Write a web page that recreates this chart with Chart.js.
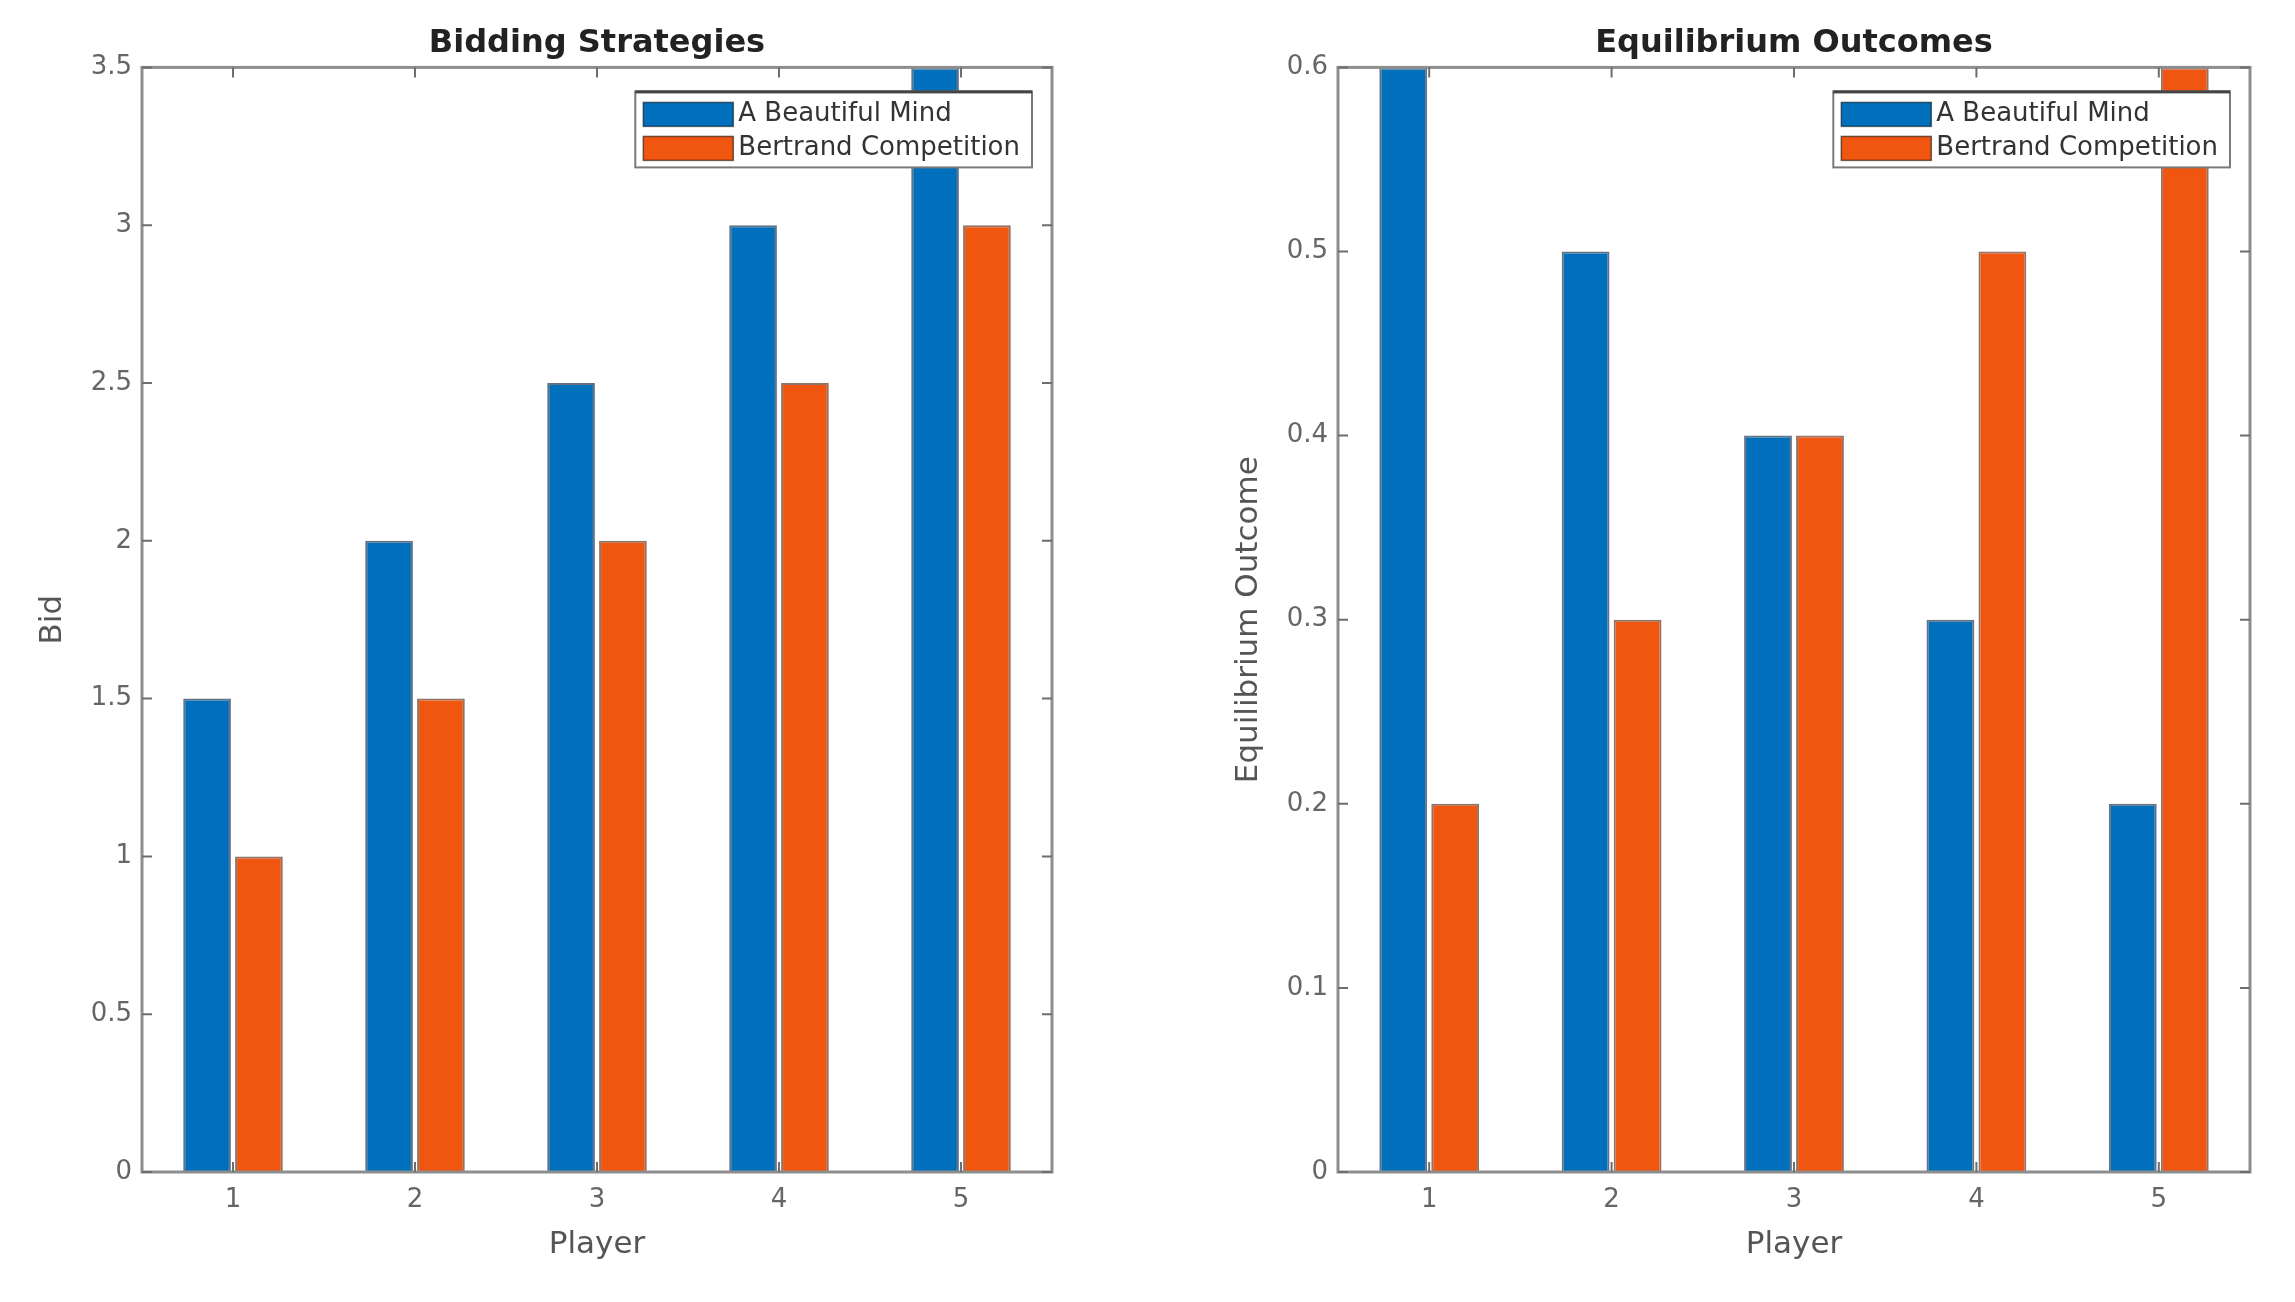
<!DOCTYPE html>
<html>
<head>
<meta charset="utf-8">
<title>Bidding Strategies / Equilibrium Outcomes</title>
<script src="https://cdn.jsdelivr.net/npm/chart.js@4.4.0/dist/chart.umd.min.js"></script>
<style>
  html, body { margin: 0; padding: 0; background: #ffffff; }
  .wrap { position: relative; width: 2295px; height: 1302px; }
  canvas { position: absolute; left: 0; top: 0; }
</style>
</head>
<body>
<div class="wrap">
  <canvas id="bidChart" width="2295" height="1302"></canvas>
  <canvas id="outcomeChart" width="2295" height="1302"></canvas>
</div>
<script>
const players = ["1", "2", "3", "4", "5"];
const seriesNames = ["A Beautiful Mind", "Bertrand Competition"];

const bidBeautifulMind = [1.5, 2, 2.5, 3, 3.5];
const bidBertrand = [1, 1.5, 2, 2.5, 3];

const outcomeBeautifulMind = [0.6, 0.5, 0.4, 0.3, 0.2];
const outcomeBertrand = [0.2, 0.3, 0.4, 0.5, 0.6];

const BLUE = "#0070bd";
const ORANGE = "#f0560f";
const FONT = "'DejaVu Sans', 'Liberation Sans', sans-serif";

// box around the axes plus the small inward ticks, matlab style
const axesBox = {
  id: "axesBox",
  afterDatasetsDraw(chart) {
    const { ctx, chartArea: a, scales } = chart;
    ctx.save();
    ctx.strokeStyle = "#8e8e8e";
    ctx.lineWidth = 3;
    ctx.strokeRect(a.left, a.top, a.right - a.left, a.bottom - a.top);
    ctx.lineWidth = 2;
    ctx.strokeStyle = "#6e6e6e";
    const len = 10;
    scales.y.ticks.forEach((t, i) => {
      const y = scales.y.getPixelForTick(i);
      ctx.beginPath();
      ctx.moveTo(a.left, y);
      ctx.lineTo(a.left + len, y);
      ctx.moveTo(a.right, y);
      ctx.lineTo(a.right - len, y);
      ctx.stroke();
    });
    scales.x.ticks.forEach((t, i) => {
      const x = scales.x.getPixelForTick(i);
      ctx.beginPath();
      ctx.moveTo(x, a.top);
      ctx.lineTo(x, a.top + len);
      ctx.moveTo(x, a.bottom);
      ctx.lineTo(x, a.bottom - len);
      ctx.stroke();
    });
    ctx.restore();
  },
};

// legend drawn inside the plot, top right corner
const insideLegend = {
  id: "insideLegend",
  afterDraw(chart, args, opts) {
    const { ctx, chartArea: a } = chart;
    const sets = chart.data.datasets;
    ctx.save();
    ctx.font = "26px " + FONT;
    const textW = Math.max(...sets.map((d) => ctx.measureText(d.label).width));
    const swW = 90, swH = 24, rowH = 34, padL = 8, padR = 12, gap = 5;
    const w = padL + swW + gap + textW + padR;
    const h = 6 + rowH * sets.length + 2;
    const x0 = a.right - opts.right - w;
    const y0 = a.top + opts.top;
    ctx.fillStyle = "#ffffff";
    ctx.fillRect(x0, y0, w, h);
    ctx.strokeStyle = "#7a7a7a";
    ctx.lineWidth = 2;
    ctx.strokeRect(x0, y0, w, h);
    ctx.fillStyle = "#444";
    ctx.fillRect(x0, y0 - 1, w, 3);
    sets.forEach((d, i) => {
      const cy = y0 + 6 + rowH * i + rowH / 2;
      ctx.fillStyle = d.backgroundColor;
      ctx.fillRect(x0 + padL, cy - swH / 2, swW, swH);
      ctx.strokeStyle = "rgba(0,0,0,0.55)";
      ctx.lineWidth = 1.5;
      ctx.strokeRect(x0 + padL, cy - swH / 2, swW, swH);
      ctx.fillStyle = "#333";
      ctx.textBaseline = "middle";
      ctx.textAlign = "left";
      ctx.fillText(d.label, x0 + padL + swW + gap, cy);
    });
    ctx.restore();
  },
};

function makeChart(id, opts) {
  const ctx = document.getElementById(id).getContext("2d");
  return new Chart(ctx, {
    type: "bar",
    data: {
      labels: players,
      datasets: [
        {
          label: seriesNames[0],
          data: opts.blue,
          backgroundColor: BLUE,
          borderColor: "rgba(0,20,50,0.6)",
          borderWidth: 2,
          categoryPercentage: 0.57,
          barPercentage: 0.92,
        },
        {
          label: seriesNames[1],
          data: opts.orange,
          backgroundColor: ORANGE,
          borderColor: "rgba(70,20,0,0.6)",
          borderWidth: 2,
          categoryPercentage: 0.57,
          barPercentage: 0.92,
        },
      ],
    },
    options: {
      responsive: false,
      animation: false,
      devicePixelRatio: 1,
      layout: {
        padding: { left: opts.padLeft, right: opts.padRight, top: 24, bottom: 28 },
      },
      plugins: {
        legend: { display: false },
        tooltip: { enabled: false },
        title: {
          display: true,
          text: opts.title,
          fullSize: false,
          color: "#222",
          font: { family: FONT, size: 32, weight: "bold" },
          padding: { top: 0, bottom: 5 },
        },
        insideLegend: { right: 20, top: 24 },
      },
      scales: {
        x: {
          grid: { display: false, drawTicks: false },
          border: { display: false },
          ticks: { color: "#666", font: { family: FONT, size: 26 }, padding: 13 },
          title: {
            display: true,
            text: "Player",
            color: "#555",
            font: { family: FONT, size: 31 },
            padding: { top: 0, bottom: 10 },
          },
          afterFit: (scale) => { scale.height = 102; },
        },
        y: {
          min: 0,
          max: opts.max,
          grid: { display: false, drawTicks: false },
          border: { display: false },
          ticks: {
            stepSize: opts.step,
            color: "#666",
            font: { family: FONT, size: 26 },
            padding: 10,
            callback: (v) => String(parseFloat(v.toFixed(2))),
          },
          title: {
            display: true,
            text: opts.yTitle,
            color: "#555",
            font: { family: FONT, size: 31 },
            padding: { top: 0, bottom: 0 },
          },
          afterFit: (scale) => { scale.width = 108; },
        },
      },
    },
    plugins: [axesBox, insideLegend],
  });
}

makeChart("bidChart", {
  title: "Bidding Strategies",
  yTitle: "Bid",
  blue: bidBeautifulMind,
  orange: bidBertrand,
  max: 3.5,
  step: 0.5,
  padLeft: 142 - 108,
  padRight: 2295 - 1052,
});

makeChart("outcomeChart", {
  title: "Equilibrium Outcomes",
  yTitle: "Equilibrium Outcome",
  blue: outcomeBeautifulMind,
  orange: outcomeBertrand,
  max: 0.6,
  step: 0.1,
  padLeft: 1338 - 108,
  padRight: 2295 - 2250,
});
</script>
</body>
</html>
